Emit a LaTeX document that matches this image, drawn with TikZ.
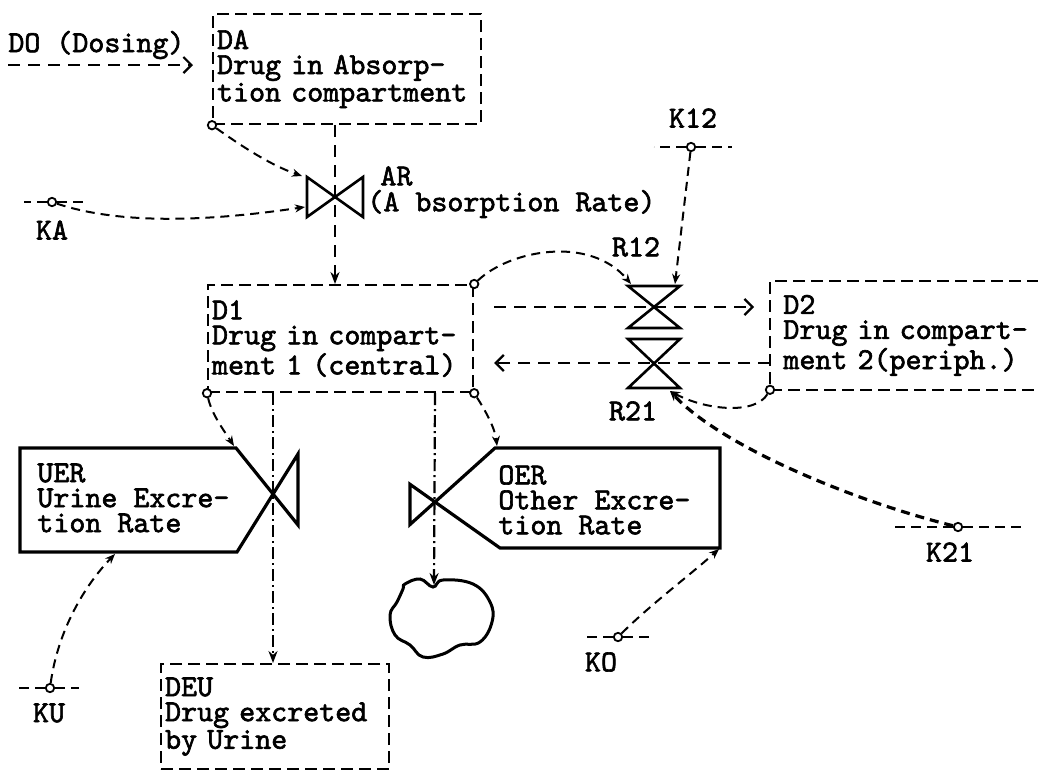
\documentclass[tikz,border=0pt]{standalone}
\usepackage{fontspec}
\newfontfamily\tw{lmmono10-regular.otf}[FakeBold=2,WordSpace={1,0,0}]
\usetikzlibrary{arrows.meta,calc}
\newcommand\mono{\tw\fontsize{15.24pt}{12.5pt}\selectfont}
\begin{document}
\begin{tikzpicture}[x=0.5pt,y=-0.5pt,
  txt/.style={font=\mono,inner sep=0pt,align=left},
  boxline/.style={line width=1.1pt,dash pattern=on 6pt off 3pt},
  dbox/.style={draw,boxline,inner xsep=2pt,inner ysep=0pt,align=left,font=\mono,anchor=north west},
  sbox/.style={draw,line width=1.6pt,line join=miter},
  valve/.style={draw,line width=1.3pt,line join=miter},
  link/.style={draw,line width=1pt,dash pattern=on 4.5pt off 3pt,-{Stealth[length=5pt,width=4pt]}},
  flow/.style={draw,line width=1.2pt,dash pattern=on 6pt off 4pt},
  dflow/.style={draw,line width=1.1pt,dash pattern=on 6pt off 2pt on 1pt off 2pt},
  barb/.style={-{Straight Barb[length=4pt,width=8pt,line width=1.1pt]}},
  fhead/.style={-{Stealth[length=6pt,width=4.5pt]}},
  pin0/.style={circle,draw,fill=white,inner sep=0pt,minimum size=4.2pt,line width=0.9pt},
  kbar/.style={draw,line width=1.1pt,dash pattern=on 5pt off 3pt},
]
\useasboundingbox (0,0) rectangle (1038,772);

% ---- stock boxes ----
\node[txt,anchor=west] (DO) at (8,45) {DO (Dosing)};
\node[dbox,minimum width=134pt,minimum height=55pt,text width=130pt] (DA) at (212,13)
  {DA\\Drug in Absorp-\\tion compartment};
\node[dbox,minimum width=132.5pt,minimum height=53.5pt,text width=128.5pt] (D1) at (207,284)
  {D1\\Drug in compart-\\ment 1 (central)};
\node[txt,anchor=north west,minimum width=143pt,minimum height=54pt,inner xsep=6.5pt,text width=130pt] (D2) at (770,281)
  {D2\\Drug in compart-\\ment 2(periph.)};
\draw[boxline] (D2.north east) -- (D2.north west) -- (D2.south west) -- (D2.south east);
\node[dbox,minimum width=114pt,minimum height=52.5pt,text width=110pt] (DEU) at (160,663)
  {DEU\\Drug excreted\\by Urine};

% ---- rate boxes with valves ----
\coordinate (UV) at (273,494);
\coordinate (OV) at (435,502);
\draw[sbox] (236,448) -- (298,525) -- (298,454) -- (237,552) -- (20,552) -- (20,448) -- cycle;
\node[txt,anchor=west] (UER) at (37,498) {UER\\Urine Excre-\\tion Rate};
\draw[sbox] (495,448) -- (410,524.5) -- (410,484.3) -- (500,548) -- (720,548) -- (720,448) -- cycle;
\node[txt,anchor=west] (OER) at (498,500) {OER\\Other Excre-\\tion Rate};
\coordinate (UERtr) at (234,446);
\coordinate (UERb) at (115,554);
\coordinate (OERtl) at (497,446);
\coordinate (OERbr) at (719,549);

% ---- valves ----
\coordinate (AR) at (335,197);
\draw[valve] (307,177) -- (363,217) -- (363,177) -- (307,217) -- cycle;
\coordinate (ARtl) at (302,176);
\coordinate (ARin) at (305,207);
\coordinate (R12) at (654,307);
\draw[valve] (628,286) -- (680,286) -- (628,328) -- (680,328) -- cycle;
\coordinate (R12tl) at (631,284);
\coordinate (R12tr) at (675,284);
\coordinate (R21) at (654,363);
\draw[valve] (628,339) -- (680,339) -- (628,388) -- (680,388) -- cycle;
\coordinate (R21b) at (670,391);

\node[txt,anchor=west] (ARl) at (380,176) {AR};
\node[txt,anchor=west] (ARn) at (367,204) {(A bsorption Rate)};
\node[txt] (R12l) at (636,247) {R12};
\node[txt] (R21l) at (633,411) {R21};

% ---- cloud ----
\draw[line width=1.5pt] plot[smooth cycle,tension=0.7] coordinates {(405,584) (420,579) (433,587) (443,580) (473,584) (490,602) (492,622) (480,642) (460,645) (443,654) (423,657) (410,645) (395,635) (390,615) (397,602) (403,589)};
\coordinate (cloudtop) at (434,585);

% ---- flows ----
\coordinate (DOs) at (8,65);
\draw[flow,barb] (DOs) -- ([xshift=-9.5pt]DA.west |- DOs);
\draw[flow,fhead] (DA.south -| AR) -- (D1.north -| AR);
\draw[dflow,fhead] (D1.south -| UV) -- (DEU.north -| UV);
\draw[dflow,fhead] (D1.south -| OV) -- (cloudtop);
\draw[flow,barb] ([xshift=10pt]D1.east |- R12) -- ([xshift=-8pt]D2.west |- R12);
\draw[flow,barb] (D2.west |- R21) -- ([xshift=10pt]D1.east |- R21);

% ---- auxiliary circles ----
\node[pin0] (cDA) at (DA.south west) {};
\node[pin0] (cD1ne) at (D1.north east) {};
\node[pin0] (cD1sw) at (D1.south west) {};
\node[pin0] (cD1se) at (D1.south east) {};
\node[pin0] (cD2) at (D2.south west) {};

\node[pin0] (KA) at (52,202) {};
\draw[kbar] (KA.west) -- ++(-23,0);
\draw[kbar] (KA.east) -- ++(26,0);
\node[txt] (KAl) at (52,230) {KA};

\node[pin0] (K12) at (691,147) {};
\draw[kbar] (K12.west) -- ++(-32,0);
\draw[kbar] (K12.east) -- ++(36,0);
\node[txt] (K12l) at (693,118) {K12};

\node[pin0] (K21) at (958,527) {};
\draw[kbar] (K21.west) -- ++(-58,0);
\draw[kbar] (K21.east) -- ++(59,0);
\node[txt] (K21l) at (950,552) {K21};

\node[pin0] (KO) at (618,637) {};
\draw[kbar] (KO.west) -- ++(-28,0);
\draw[kbar] (KO.east) -- ++(26,0);
\node[txt] (KOl) at (601,662) {KO};

\node[pin0] (KU) at (50,688) {};
\draw[kbar] (KU.west) -- ++(-28,0);
\draw[kbar] (KU.east) -- ++(24,0);
\node[txt] (KUl) at (49,713) {KU};

% ---- information links ----
\draw[link] (cDA) .. controls (240,145) and (270,165) .. (ARtl);
\draw[link] (KA) .. controls (130,228) and (230,218) .. (ARin);
\draw[link] (K12) -- (R12tr);
\draw[link] (cD1ne) .. controls (510,250) and (590,235) .. (R12tl);
\draw[link] (cD2) .. controls (755,415) and (705,410) .. (R21b);
\draw[link,line width=1.6pt] (K21) .. controls (850,500) and (720,445) .. (R21b);
\draw[link] (cD1sw) .. controls (212,415) and (225,432) .. (UERtr);
\draw[link] (cD1se) .. controls (485,410) and (495,428) .. (OERtl);
\draw[link] (KU) .. controls (58,630) and (85,585) .. (UERb);
\draw[link] (KO) .. controls (650,605) and (690,575) .. (OERbr);
\end{tikzpicture}
\end{document}
